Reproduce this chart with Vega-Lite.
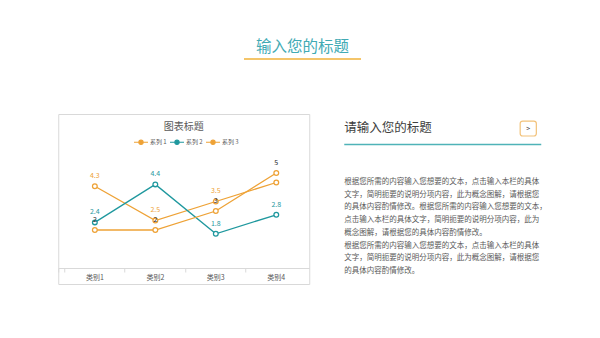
{
  "$schema": "https://vega.github.io/schema/vega-lite/v6.json",
  "background": "white",
  "padding": {"left": 57, "top": 39, "right": 0, "bottom": 0},
  "config": {"font": "Noto Sans CJK SC", "view": {"stroke": null}},
  "spacing": 49,
  "center": true,
  "vconcat": [
    {
      "width": 117,
      "height": 2,
      "view": {"fill": "#f4c56a", "stroke": null},
      "title": {"text": "输入您的标题", "fontSize": 15.5, "color": "#41aab4", "fontWeight": "normal", "offset": -2},
      "data": {"values": [{}]},
      "mark": {"type": "text"},
      "encoding": {}
    },
    {
      "spacing": 33,
      "hconcat": [
        {
          "width": 251,
          "height": 170,
          "view": {"stroke": "#d9d9d9", "strokeWidth": 1},
          "title": {"text": "图表标题", "fontSize": 10, "color": "#595959", "fontWeight": "normal", "offset": -18},
          "data": {
            "values": [
              {"category": "类别1", "series": "系列 1", "value": 4.3},
              {"category": "类别2", "series": "系列 1", "value": 2.5},
              {"category": "类别3", "series": "系列 1", "value": 3.5},
              {"category": "类别4", "series": "系列 1", "value": 4.5},
              {"category": "类别1", "series": "系列 2", "value": 2.4},
              {"category": "类别2", "series": "系列 2", "value": 4.4},
              {"category": "类别3", "series": "系列 2", "value": 1.8},
              {"category": "类别4", "series": "系列 2", "value": 2.8},
              {"category": "类别1", "series": "系列 3", "value": 2},
              {"category": "类别2", "series": "系列 3", "value": 2},
              {"category": "类别3", "series": "系列 3", "value": 3},
              {"category": "类别4", "series": "系列 3", "value": 5}
            ]
          },
          "encoding": {
            "x": {
              "field": "category", "type": "nominal",
              "scale": {"type": "band", "paddingInner": 0, "paddingOuter": 0.075, "align": 0.7},
              "axis": {"title": null, "orient": "bottom", "offset": -16, "labelAngle": 0, "domainColor": "#d9d9d9", "tickColor": "#d9d9d9", "tickSize": 4, "bandPosition": 0, "tickExtra": true, "labelFontSize": 7, "labelColor": "#595959", "labelPadding": 1, "grid": false}
            },
            "y": {"field": "value", "type": "quantitative", "scale": {"domain": [-0.842, 8.105], "nice": false, "zero": false}, "axis": null},
            "color": {
              "field": "series", "type": "nominal",
              "scale": {"domain": ["系列 1", "系列 2", "系列 3"], "range": ["#eea236", "#1f989e", "#eea236"]},
              "legend": {"orient": "none", "legendX": 75, "legendY": 76, "direction": "horizontal", "title": null, "labelFontSize": 6, "labelColor": "#595959", "columnPadding": 0, "labelOffset": 1, "symbolType": "M-1,0L-0.3,0M0.3,0L1,0M-0.3,0A0.3,0.3 0 1,1 0.3,0A0.3,0.3 0 1,1 -0.3,0", "symbolSize": 196, "symbolStrokeWidth": 1.2, "symbolFillColor": "white"}
            }
          },
          "layer": [
            {"mark": {"type": "line", "strokeWidth": 1.3}},
            {"mark": {"type": "point", "shape": "circle", "filled": false, "fill": "white", "fillOpacity": 1, "opacity": 1, "strokeWidth": 1.3, "size": 22}},
            {
              "transform": [{"filter": "!(datum.series === '系列 1' && datum.category === '类别4')"}],
              "mark": {"type": "text", "dy": -10, "fontSize": 7},
              "encoding": {
                "text": {"field": "value", "type": "quantitative"},
                "color": {"condition": {"test": "datum.series === '系列 3'", "value": "#262626"}, "field": "series", "type": "nominal"}
              }
            }
          ]
        },
        {
          "width": 197,
          "height": 170,
          "layer": [
            {
              "data": {
                "values": [
                  {"line": 0, "text": "根据您所需的内容输入您想要的文本，点击输入本栏的具体"},
                  {"line": 1, "text": "文字，简明扼要的说明分项内容，此为概念图解，请根据您"},
                  {"line": 2, "text": "的具体内容酌情修改。根据您所需的内容输入您想要的文本，"},
                  {"line": 3, "text": "点击输入本栏的具体文字，简明扼要的说明分项内容，此为"},
                  {"line": 4, "text": "概念图解，请根据您的具体内容酌情修改。"},
                  {"line": 5, "text": "根据您所需的内容输入您想要的文本，点击输入本栏的具体"},
                  {"line": 6, "text": "文字，简明扼要的说明分项内容，此为概念图解，请根据您"},
                  {"line": 7, "text": "的具体内容酌情修改。"}
                ]
              },
              "mark": {"type": "text", "align": "left", "baseline": "middle", "fontSize": 7.5, "color": "#595959"},
              "encoding": {
                "x": {"datum": 0, "type": "quantitative", "scale": {"domain": [0, 1], "nice": false, "zero": false}, "axis": null},
                "y": {"field": "line", "type": "quantitative", "scale": {"domain": [-5.354, 8.03], "nice": false, "zero": false, "reverse": true}, "axis": null},
                "text": {"field": "text"}
              }
            },
            {
              "data": {"values": [{}]},
              "mark": {"type": "text", "align": "left", "baseline": "middle", "fontSize": 12.5, "color": "#404040", "text": "请输入您的标题"},
              "encoding": {"x": {"datum": 0, "type": "quantitative", "axis": null}, "y": {"datum": -4.25, "type": "quantitative", "axis": null}}
            },
            {
              "data": {"values": [{}]},
              "mark": {"type": "rule", "color": "#4fb3b8", "strokeWidth": 1.5},
              "encoding": {"x": {"datum": 0, "type": "quantitative", "axis": null}, "x2": {"datum": 1}, "y": {"datum": -2.95, "type": "quantitative", "axis": null}}
            },
            {
              "data": {"values": [{}]},
              "mark": {"type": "rect", "fill": "white", "stroke": "#f2c27a", "strokeWidth": 1.2, "cornerRadius": 2.5},
              "encoding": {"x": {"datum": 0.893, "type": "quantitative", "axis": null}, "x2": {"datum": 0.975}, "y": {"datum": -4.8, "type": "quantitative", "axis": null}, "y2": {"datum": -3.62}}
            },
            {
              "data": {"values": [{}]},
              "mark": {"type": "text", "text": ">", "fontSize": 7, "color": "#404040", "align": "center", "baseline": "middle"},
              "encoding": {"x": {"datum": 0.934, "type": "quantitative", "axis": null}, "y": {"datum": -4.2, "type": "quantitative", "axis": null}}
            }
          ]
        }
      ]
    }
  ]
}
